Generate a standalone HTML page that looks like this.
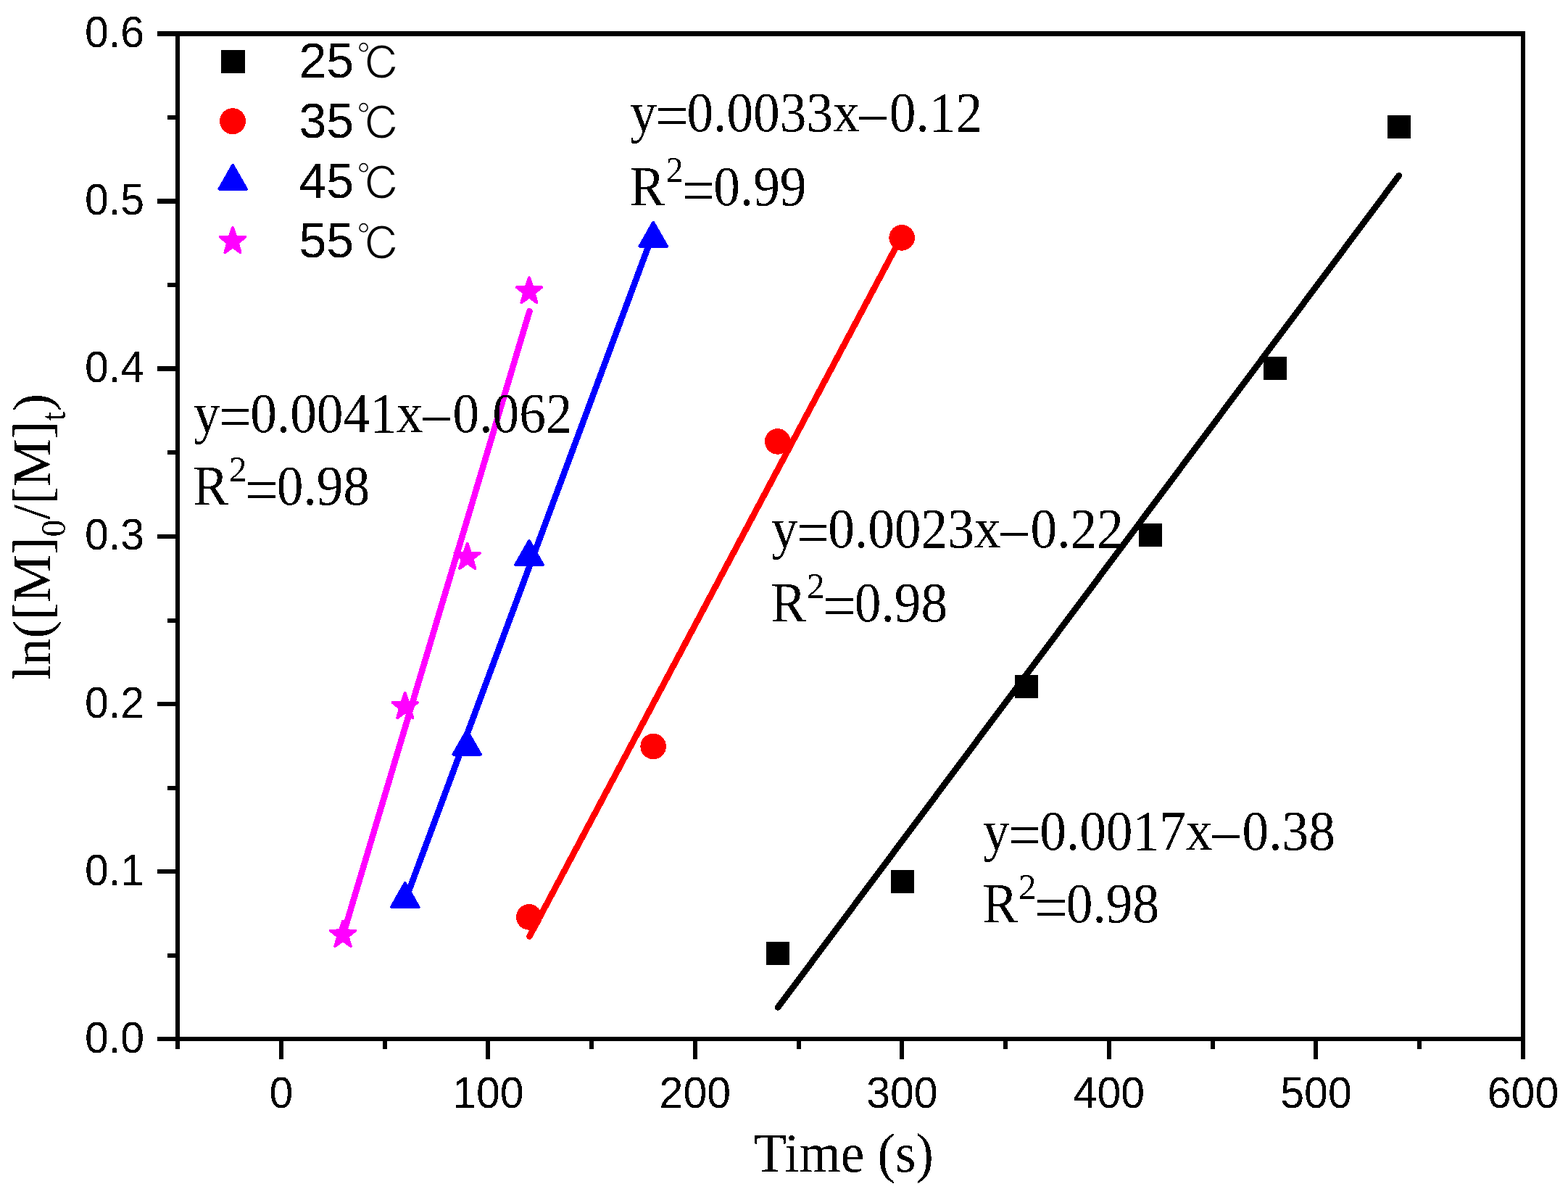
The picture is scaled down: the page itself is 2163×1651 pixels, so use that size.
<!DOCTYPE html>
<html lang="en"><head><meta charset="utf-8"><title>Kinetic plot</title>
<style>
html,body{margin:0;padding:0;background:#fff;}
body{width:2163px;height:1651px;overflow:hidden;}
svg{display:block;}
.sans{font-family:"Liberation Sans",Arial,Helvetica,sans-serif;}
.serif{font-family:"Liberation Serif","Times New Roman",Times,serif;}
.cjk{font-family:"Liberation Sans","IPAGothic","Noto Sans CJK JP",sans-serif;}
</style></head><body>
<svg width="2163" height="1651" viewBox="0 0 2163 1651">
<defs><filter id="crisp" x="0" y="0" width="2163" height="1651" filterUnits="userSpaceOnUse" color-interpolation-filters="sRGB"><feComponentTransfer><feFuncA type="discrete" tableValues="0 1"/></feComponentTransfer></filter></defs>
<rect x="0" y="0" width="2163" height="1651" fill="#ffffff"/>
<g fill="none" stroke-width="8.6" stroke-linecap="round" shape-rendering="crispEdges">
<line x1="473.4" y1="1289" x2="730.4" y2="429.3" stroke="#ff00ff"/>
<line x1="559.1" y1="1242" x2="901.7" y2="320" stroke="#0000ff"/>
<line x1="730.4" y1="1291.5" x2="1244.4" y2="325" stroke="#ff0000"/>
<line x1="1073.1" y1="1389.5" x2="1929.7" y2="242.3" stroke="#000000"/>
</g>
<g shape-rendering="crispEdges">
<rect x="1057.0" y="1299.0" width="32" height="32" fill="#000"/>
<rect x="1228.6" y="1199.7" width="32" height="32" fill="#000"/>
<rect x="1400.0" y="930.7" width="32" height="32" fill="#000"/>
<rect x="1571.0" y="721.7" width="32" height="32" fill="#000"/>
<rect x="1742.5" y="491.8" width="32" height="32" fill="#000"/>
<rect x="1914.0" y="158.8" width="32" height="32" fill="#000"/>
<circle cx="729.8" cy="1264.9" r="17.8" fill="#ff0000"/>
<circle cx="901.2" cy="1029.5" r="17.8" fill="#ff0000"/>
<circle cx="1072.7" cy="608.9" r="17.8" fill="#ff0000"/>
<circle cx="1244.1" cy="327.9" r="17.8" fill="#ff0000"/>
<polygon points="901.2,306.4 920.2,339.8 882.2,339.8" fill="#0000ff" stroke="#0000ff" stroke-width="3.6" stroke-linejoin="round"/>
<polygon points="730.0,745.6 749.0,779.0 711.0,779.0" fill="#0000ff" stroke="#0000ff" stroke-width="3.6" stroke-linejoin="round"/>
<polygon points="644.2,1007.3 663.2,1040.7 625.2,1040.7" fill="#0000ff" stroke="#0000ff" stroke-width="3.6" stroke-linejoin="round"/>
<polygon points="558.7,1217.6 577.7,1251.0 539.8,1251.0" fill="#0000ff" stroke="#0000ff" stroke-width="3.6" stroke-linejoin="round"/>
<polygon points="730.0,382.9 734.3,395.8 747.3,396.1 736.9,404.4 740.7,417.5 730.0,409.7 719.3,417.5 723.1,404.4 712.7,396.1 725.7,395.8" fill="#ff00ff" stroke="#ff00ff" stroke-width="3.8" stroke-linejoin="round"/>
<polygon points="644.7,749.6 649.0,762.5 662.0,762.8 651.6,771.1 655.4,784.2 644.7,776.4 634.0,784.2 637.8,771.1 627.4,762.8 640.4,762.5" fill="#ff00ff" stroke="#ff00ff" stroke-width="3.8" stroke-linejoin="round"/>
<polygon points="558.7,955.7 563.0,968.6 576.0,968.9 565.6,977.2 569.4,990.3 558.7,982.5 548.0,990.3 551.8,977.2 541.4,968.9 554.4,968.6" fill="#ff00ff" stroke="#ff00ff" stroke-width="3.8" stroke-linejoin="round"/>
<polygon points="473.0,1270.4 477.3,1283.3 490.3,1283.6 479.9,1291.9 483.7,1305.0 473.0,1297.2 462.3,1305.0 466.1,1291.9 455.7,1283.6 468.7,1283.3" fill="#ff00ff" stroke="#ff00ff" stroke-width="3.8" stroke-linejoin="round"/>
</g>
<g fill="#000" shape-rendering="crispEdges">
<rect x="242" y="43" width="1862" height="7"/>
<rect x="242" y="1430" width="1862" height="6"/>
<rect x="242" y="43" width="6" height="1393"/>
<rect x="2098" y="43" width="6" height="1393"/>
<rect x="217" y="1430" width="26" height="6"/>
<rect x="231" y="1315" width="12" height="6"/>
<rect x="217" y="1199" width="26" height="6"/>
<rect x="231" y="1084" width="12" height="6"/>
<rect x="217" y="968" width="26" height="6"/>
<rect x="231" y="853" width="12" height="6"/>
<rect x="217" y="737" width="26" height="6"/>
<rect x="231" y="621" width="12" height="6"/>
<rect x="217" y="505" width="26" height="7"/>
<rect x="231" y="390" width="12" height="6"/>
<rect x="217" y="274" width="26" height="7"/>
<rect x="231" y="159" width="12" height="6"/>
<rect x="217" y="43" width="26" height="7"/>
<rect x="242" y="1430" width="6" height="17"/>
<rect x="385" y="1430" width="6" height="31"/>
<rect x="528" y="1430" width="6" height="17"/>
<rect x="670" y="1430" width="6" height="31"/>
<rect x="813" y="1430" width="6" height="17"/>
<rect x="956" y="1430" width="6" height="31"/>
<rect x="1099" y="1430" width="6" height="17"/>
<rect x="1241" y="1430" width="6" height="31"/>
<rect x="1384" y="1430" width="6" height="17"/>
<rect x="1527" y="1430" width="6" height="31"/>
<rect x="1670" y="1430" width="6" height="17"/>
<rect x="1812" y="1430" width="6" height="31"/>
<rect x="1955" y="1430" width="6" height="17"/>
<rect x="2098" y="1430" width="6" height="31"/>
</g>
<g filter="url(#crisp)">
<g class="sans" font-size="58.3" fill="#000">
<text transform="translate(199,1451.9) scale(1.013,1.053)" text-anchor="end">0.0</text>
<text transform="translate(199,1220.7) scale(1.013,1.053)" text-anchor="end">0.1</text>
<text transform="translate(199,989.5) scale(1.013,1.053)" text-anchor="end">0.2</text>
<text transform="translate(199,758.3) scale(1.013,1.053)" text-anchor="end">0.3</text>
<text transform="translate(199,527.2) scale(1.013,1.053)" text-anchor="end">0.4</text>
<text transform="translate(199,296.0) scale(1.013,1.053)" text-anchor="end">0.5</text>
<text transform="translate(199,64.8) scale(1.013,1.053)" text-anchor="end">0.6</text>
<text transform="translate(387.8,1527.6) scale(1.013,1.053)" text-anchor="middle">0</text>
<text transform="translate(673.3,1527.6) scale(1.013,1.053)" text-anchor="middle">100</text>
<text transform="translate(958.8,1527.6) scale(1.013,1.053)" text-anchor="middle">200</text>
<text transform="translate(1244.4,1527.6) scale(1.013,1.053)" text-anchor="middle">300</text>
<text transform="translate(1529.9,1527.6) scale(1.013,1.053)" text-anchor="middle">400</text>
<text transform="translate(1815.5,1527.6) scale(1.013,1.053)" text-anchor="middle">500</text>
<text transform="translate(2101.0,1527.6) scale(1.013,1.053)" text-anchor="middle">600</text>
</g>
<g shape-rendering="crispEdges">
<rect x="305" y="69" width="33" height="32" fill="#000"/>
<circle cx="321" cy="167.2" r="18" fill="#ff0000"/>
<polygon points="321.1,227.5 340.1,260.9 302.2,260.9" fill="#0000ff" stroke="#0000ff" stroke-width="3.6" stroke-linejoin="round"/>
<polygon points="321.0,313.7 325.3,326.6 338.3,326.9 327.9,335.2 331.7,348.3 321.0,340.5 310.3,348.3 314.1,335.2 303.7,326.9 316.7,326.6" fill="#ff00ff" stroke="#ff00ff" stroke-width="3.8" stroke-linejoin="round"/>
</g>
<g fill="#000">
<text class="sans" font-size="66.7" transform="translate(412.4,106.8) scale(1.02,1.04)">25<tspan class="cjk" font-size="60" x="77.6" dy="3.1" stroke="#fff" stroke-width="1.05">℃</tspan></text>
<text class="sans" font-size="66.7" transform="translate(412.4,189.6) scale(1.02,1.04)">35<tspan class="cjk" font-size="60" x="77.6" dy="3.1" stroke="#fff" stroke-width="1.05">℃</tspan></text>
<text class="sans" font-size="66.7" transform="translate(412.4,272.5) scale(1.02,1.04)">45<tspan class="cjk" font-size="60" x="77.6" dy="3.1" stroke="#fff" stroke-width="1.05">℃</tspan></text>
<text class="sans" font-size="66.7" transform="translate(412.4,355.3) scale(1.02,1.04)">55<tspan class="cjk" font-size="60" x="77.6" dy="3.1" stroke="#fff" stroke-width="1.05">℃</tspan></text>
</g>
<g class="serif" font-size="75" fill="#000">
<text transform="translate(869.3,180.9) scale(0.978,1.045)">y<tspan font-size="83" dx="-2.2" dy="8.2">=</tspan><tspan dx="-2.2" dy="-8.2">0.0033x–</tspan><tspan dx="4.4">0.12</tspan></text>
<text transform="translate(868.6,283.0) scale(0.978,1.045)">R<tspan dx="1" font-size="49.5" dy="-30.7">2</tspan><tspan font-size="83" dx="-2.2" dy="38.9">=</tspan><tspan dx="-2.2" dy="-8.2">0.99</tspan></text>
<text transform="translate(267.0,595.6) scale(0.978,1.045)">y<tspan font-size="83" dx="-2.2" dy="8.2">=</tspan><tspan dx="-2.2" dy="-8.2">0.0041x–</tspan><tspan dx="4.4">0.062</tspan></text>
<text transform="translate(266.3,696.2) scale(0.978,1.045)">R<tspan dx="1" font-size="49.5" dy="-30.7">2</tspan><tspan font-size="83" dx="-2.2" dy="38.9">=</tspan><tspan dx="-2.2" dy="-8.2">0.98</tspan></text>
<text transform="translate(1064.0,755.4) scale(0.978,1.045)">y<tspan font-size="83" dx="-2.2" dy="8.2">=</tspan><tspan dx="-2.2" dy="-8.2">0.0023x–</tspan><tspan dx="4.4">0.22</tspan></text>
<text transform="translate(1063.3,856.7) scale(0.978,1.045)">R<tspan dx="1" font-size="49.5" dy="-30.7">2</tspan><tspan font-size="83" dx="-2.2" dy="38.9">=</tspan><tspan dx="-2.2" dy="-8.2">0.98</tspan></text>
<text transform="translate(1356.0,1172.0) scale(0.978,1.045)">y<tspan font-size="83" dx="-2.2" dy="8.2">=</tspan><tspan dx="-2.2" dy="-8.2">0.0017x–</tspan><tspan dx="4.4">0.38</tspan></text>
<text transform="translate(1355.3,1272.4) scale(0.978,1.045)">R<tspan dx="1" font-size="49.5" dy="-30.7">2</tspan><tspan font-size="83" dx="-2.2" dy="38.9">=</tspan><tspan dx="-2.2" dy="-8.2">0.98</tspan></text>
<text transform="translate(1164,1616) scale(0.978,1.012)" text-anchor="middle">Time (s)</text>
<text transform="translate(69.2,740.5) rotate(-90) scale(0.989,0.99)" text-anchor="middle">ln([M]<tspan font-size="48.0" dy="21.0">0</tspan><tspan dy="-21.0">/[M]</tspan><tspan font-size="48.0" dy="21.0">t</tspan><tspan dy="-21.0">)</tspan></text>
</g>
</g>
</svg>
</body></html>
